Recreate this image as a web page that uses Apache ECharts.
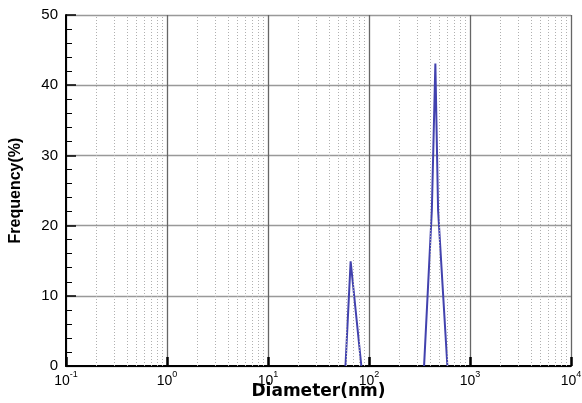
<!DOCTYPE html>
<html>
<head>
<meta charset="utf-8">
<script src="https://cdn.jsdelivr.net/npm/echarts@6/dist/echarts.min.js"></script>
<style>html,body{margin:0;padding:0;background:#fff}#c{width:582px;height:403px}</style>
</head>
<body>
<div id="c"></div>
<script>
// Data
const peak1Diam = [58.5, 65.8, 84];
const peak1Freq = [0, 14.9, 0];
const peak2Diam = [351, 419, 454, 483, 597];
const peak2Freq = [0, 22.2, 43.1, 22.2, 0];
const yTicks = [0, 10, 20, 30, 40, 50];
const decades = [0.1, 1, 10, 100, 1000, 10000];
const minorMultipliers = [2, 3, 4, 5, 6, 7, 8, 9];

const minorLines = [];
decades.slice(0, -1).forEach(d => minorMultipliers.forEach(m => minorLines.push({ xAxis: d * m })));

const zip = (a, b) => a.map((v, i) => [v, b[i]]);
const lineColor = '#4242ae';
const font = 'Liberation Sans';

const chart = echarts.init(document.getElementById('c'));
chart.setOption({
  animation: false,
  grid: { left: 66, right: 11, top: 15, bottom: 37, containLabel: false, outerBoundsMode: 'none' },
  xAxis: {
    type: 'log', logBase: 10, min: 0.1, max: 10000,
    name: 'Diameter(nm)', nameLocation: 'middle', nameGap: 17, nameMoveOverlap: false,
    nameTextStyle: { fontFamily: 'DejaVu Sans', fontWeight: 'bold', fontSize: 17, color: '#000', verticalAlign: 'top' },
    axisLine: { lineStyle: { color: '#000', width: 2 } },
    axisTick: { inside: true, length: 9, lineStyle: { color: '#000', width: 2.5 } },
    splitLine: { show: true, lineStyle: { color: '#666', width: 1.3 } },
    axisLabel: {
      margin: 4, color: '#000',
      formatter: v => '{b|10}{s|' + Math.round(Math.log10(v)) + '}',
      rich: {
        b: { fontFamily: font, fontSize: 14, color: '#000', lineHeight: 18, verticalAlign: 'bottom' },
        s: { fontFamily: font, fontSize: 9, color: '#000', lineHeight: 18, verticalAlign: 'top' }
      }
    }
  },
  yAxis: {
    type: 'value', min: 0, max: 50, interval: 10,
    name: 'Frequency(%)', nameLocation: 'middle', nameGap: 42, nameMoveOverlap: false,
    nameTextStyle: { fontFamily: font, fontWeight: 'bold', fontSize: 16, color: '#000' },
    axisLine: { show: true, lineStyle: { color: '#000', width: 2 } },
    axisTick: { show: true, inside: true, length: 10, lineStyle: { color: '#000', width: 1.5 } },
    minorTick: { show: true, splitNumber: 5, length: 6, lineStyle: { color: '#000', width: 1 } },
    splitLine: { show: true, lineStyle: { color: '#999', width: 1.3 } },
    axisLabel: { fontFamily: font, fontSize: 15, color: '#000', margin: 8,
      formatter: v => yTicks.includes(v) ? String(v) : '' }
  },
  series: [
    {
      type: 'line', data: [], silent: true,
      markLine: {
        silent: true, symbol: 'none', label: { show: false },
        lineStyle: { color: '#b0b0b0', type: [1, 2], width: 1 },
        data: minorLines
      }
    },
    { type: 'line', data: zip(peak1Diam, peak1Freq), symbol: 'none', lineStyle: { color: lineColor, width: 2 } },
    { type: 'line', data: zip(peak2Diam, peak2Freq), symbol: 'none', lineStyle: { color: lineColor, width: 2 } }
  ]
});
</script>
</body>
</html>
